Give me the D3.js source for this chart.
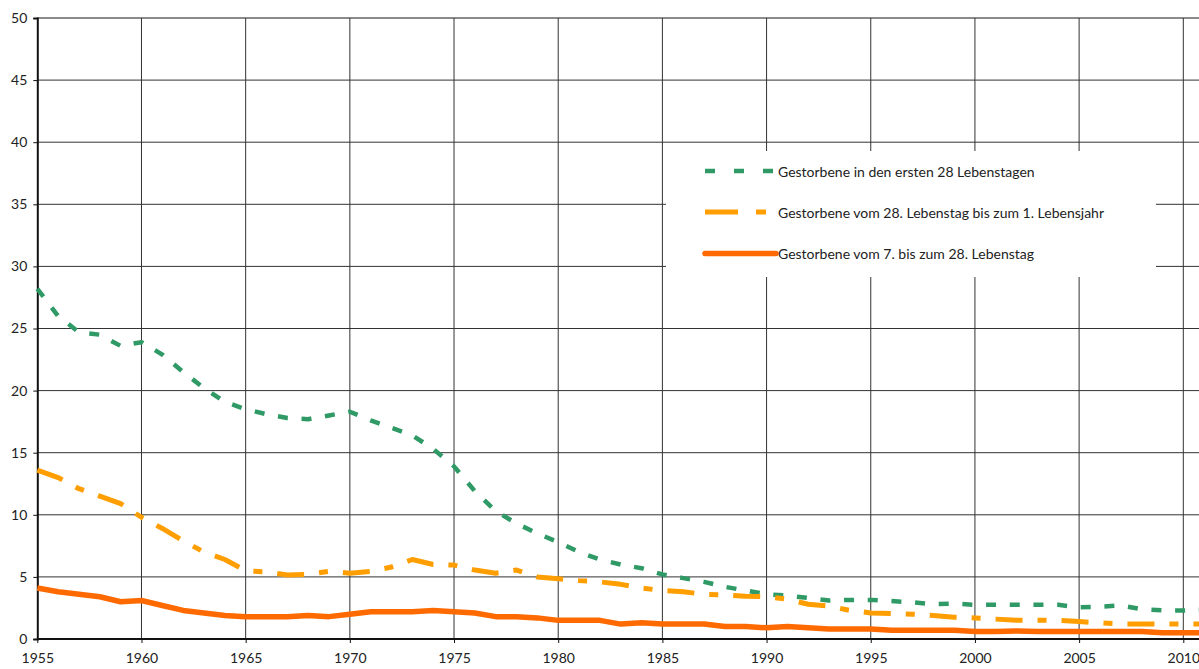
<!DOCTYPE html>
<html><head><meta charset="utf-8">
<script src="https://cdn.jsdelivr.net/npm/d3@7/dist/d3.min.js"></script>
<style>
html,body{margin:0;padding:0;background:#fff;}
svg{display:block;}
text{font-family:Lato,"Open Sans",sans-serif;fill:#222;}
</style></head>
<body><svg id="c" width="1199" height="669"></svg>
<script>
const years = [1955,1956,1957,1958,1959,1960,1961,1962,1963,1964,1965,1966,1967,1968,1969,1970,1971,1972,1973,1974,1975,1976,1977,1978,1979,1980,1981,1982,1983,1984,1985,1986,1987,1988,1989,1990,1991,1992,1993,1994,1995,1996,1997,1998,1999,2000,2001,2002,2003,2004,2005,2006,2007,2008,2009,2010,2011];
const neonatal = [28.2,26.0,24.7,24.5,23.6,23.9,22.9,21.5,20.2,19.1,18.5,18.1,17.8,17.7,18.0,18.3,17.6,17.0,16.4,15.3,13.9,11.9,10.3,9.3,8.5,7.8,7.0,6.4,6.0,5.7,5.2,4.9,4.6,4.2,3.9,3.6,3.5,3.3,3.1,3.15,3.15,3.05,2.95,2.8,2.85,2.75,2.75,2.75,2.75,2.75,2.55,2.6,2.7,2.4,2.3,2.3,2.35];
const postneonatal = [13.6,13.0,12.1,11.5,10.9,9.8,8.9,7.9,7.0,6.4,5.5,5.4,5.15,5.2,5.45,5.3,5.45,5.8,6.4,6.0,5.95,5.55,5.3,5.55,5.0,4.85,4.7,4.6,4.4,4.1,3.9,3.8,3.6,3.55,3.45,3.4,3.2,2.8,2.65,2.3,2.1,2.05,2.0,1.9,1.75,1.7,1.6,1.5,1.5,1.5,1.4,1.3,1.2,1.2,1.2,1.2,1.2];
const lateNeonatal = [4.1,3.8,3.6,3.4,3.0,3.1,2.7,2.3,2.1,1.9,1.8,1.8,1.8,1.9,1.8,2.0,2.2,2.2,2.2,2.3,2.2,2.1,1.8,1.8,1.7,1.5,1.5,1.5,1.2,1.3,1.2,1.2,1.2,1.0,1.0,0.9,1.0,0.9,0.8,0.8,0.8,0.7,0.7,0.7,0.7,0.6,0.6,0.65,0.6,0.6,0.6,0.6,0.6,0.6,0.5,0.5,0.5];
const xTicks = [1955,1960,1965,1970,1975,1980,1985,1990,1995,2000,2005,2010];
const yTicks = [0,5,10,15,20,25,30,35,40,45,50];
const seriesNames = ["Gestorbene in den ersten 28 Lebenstagen","Gestorbene vom 28. Lebenstag bis zum 1. Lebensjahr","Gestorbene vom 7. bis zum 28. Lebenstag"];

const svg = d3.select("#c");
const x = d3.scaleLinear().domain([1955,2010]).range([37.3,1183.3]);
const y = d3.scaleLinear().domain([0,50]).range([639,18]);

// gridlines
const grid = svg.append("g");
grid.selectAll("line.h").data(yTicks.filter(v=>v>0)).join("line")
  .attr("x1",37).attr("x2",1199).attr("y1",d=>y(d)).attr("y2",d=>y(d))
  .attr("stroke",d=>d===50?"#8a8a8a":"#333").attr("stroke-width",d=>d===50?2:1);
grid.selectAll("line.v").data(xTicks.filter(v=>v>1955)).join("line")
  .attr("x1",d=>x(d)).attr("x2",d=>x(d)).attr("y1",18).attr("y2",639)
  .attr("stroke","#333").attr("stroke-width",1);

// legend box (covers grid)
svg.append("rect").attr("x",666).attr("y",151).attr("width",490).attr("height",126).attr("fill","#fff");

// axes
const xAxis = d3.axisBottom(x).tickValues(xTicks).tickFormat(d3.format("d")).tickSize(4).tickPadding(10);
const yAxis = d3.axisLeft(y).tickValues(yTicks).tickSize(4).tickPadding(6);
const gx = svg.append("g").attr("transform","translate(0,639)").call(xAxis);
const gy = svg.append("g").attr("transform","translate(37.3,0)").call(yAxis);
[gx,gy].forEach(g=>{
  g.select(".domain").attr("stroke","#111").attr("stroke-width",2);
  g.selectAll(".tick line").attr("stroke","#111");
  g.selectAll(".tick text").attr("font-family","Lato, 'Open Sans', sans-serif").attr("font-size",14).attr("fill","#1a1a1a");
});
gx.select(".domain").attr("d","M37.3,0H1199");

// lines
const line = d3.line().x((d,i)=>x(years[i])).y(d=>y(d));
const data = [
  {vals:neonatal,color:"#2f9a66",w:4.5,dash:"10,13.7"},
  {vals:postneonatal,color:"#ff9e00",w:5,dash:"27,15,9,15"},
  {vals:lateNeonatal,color:"#ff6a00",w:5.5,dash:null}
];
svg.selectAll("path.series").data(data).join("path").attr("class","series")
  .attr("d",d=>line(d.vals)).attr("fill","none")
  .attr("stroke",d=>d.color).attr("stroke-width",d=>d.w)
  .attr("stroke-dasharray",d=>d.dash).attr("stroke-linejoin","round");

// legend
const legY = [171,212,253.5];
const legDash = ["10,19","33,18,10,18",null];
const lg = svg.append("g");
data.forEach((d,i)=>{
  lg.append("line").attr("x1",705).attr("x2",i===1?766:776).attr("y1",legY[i]).attr("y2",legY[i])
    .attr("stroke",d.color).attr("stroke-width",d.w)
    .attr("stroke-dasharray",legDash[i]).attr("stroke-linecap",i===2?"round":"butt");
  lg.append("text").attr("x",778).attr("y",legY[i]+5.5).attr("font-size",14).attr("fill","#1a1a1a").text(seriesNames[i]);
});
</script></body></html>
